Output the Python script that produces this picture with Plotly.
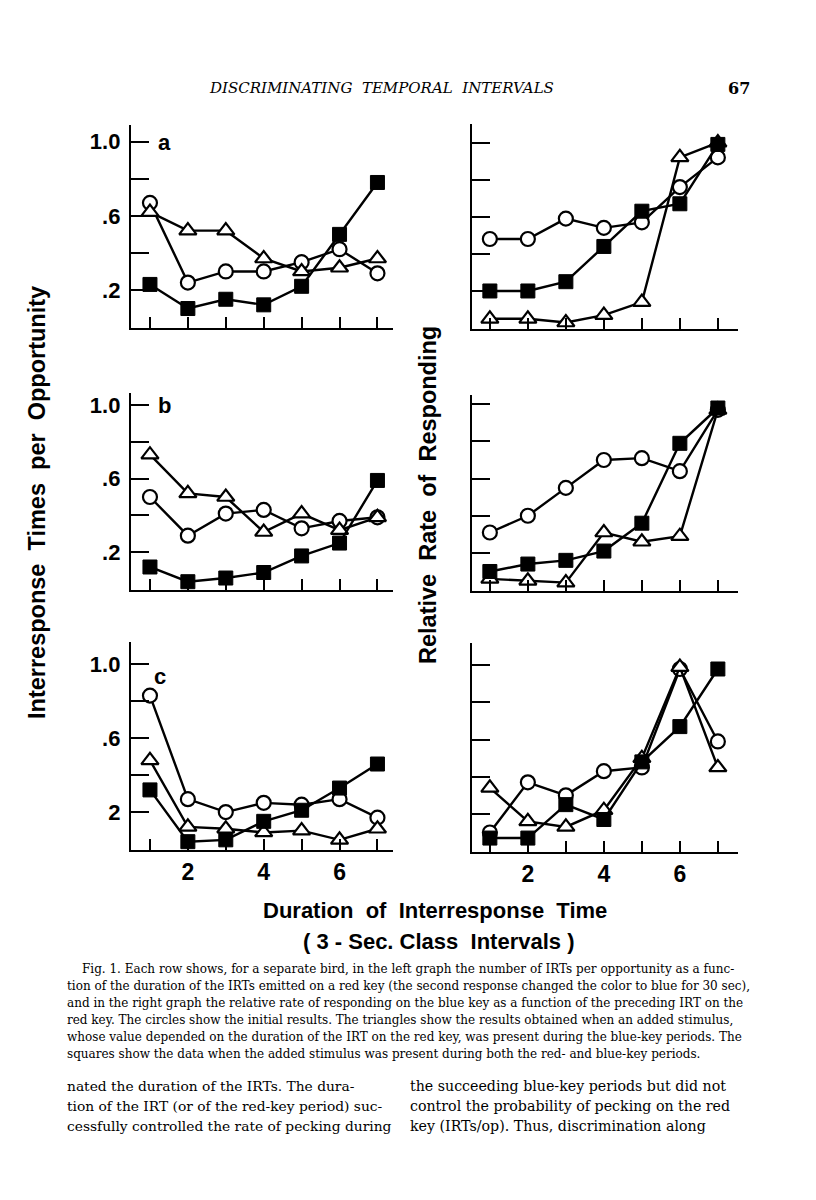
import plotly.graph_objects as go

# ---------------- data ----------------
x_class = [1, 2, 3, 4, 5, 6, 7]

# left column: IRTs per opportunity
a_left_circles   = [0.67, 0.24, 0.30, 0.30, 0.35, 0.42, 0.29]
a_left_triangles = [0.62, 0.52, 0.52, 0.37, 0.30, 0.32, 0.37]
a_left_squares   = [0.23, 0.10, 0.15, 0.12, 0.22, 0.50, 0.78]

b_left_circles   = [0.50, 0.29, 0.41, 0.43, 0.33, 0.37, 0.39]
b_left_triangles = [0.73, 0.52, 0.50, 0.31, 0.41, 0.32, 0.39]
b_left_squares   = [0.12, 0.04, 0.06, 0.09, 0.18, 0.25, 0.59]

c_left_circles   = [0.83, 0.27, 0.20, 0.25, 0.24, 0.27, 0.17]
c_left_triangles = [0.48, 0.12, 0.11, 0.09, 0.10, 0.05, 0.11]
c_left_squares   = [0.32, 0.04, 0.05, 0.15, 0.21, 0.33, 0.46]

# right column: relative rate of responding
a_right_circles   = [0.48, 0.48, 0.59, 0.54, 0.57, 0.76, 0.92]
a_right_triangles = [0.05, 0.05, 0.03, 0.07, 0.14, 0.92, 1.00]
a_right_squares   = [0.20, 0.20, 0.25, 0.44, 0.63, 0.67, 0.99]

b_right_circles   = [0.31, 0.40, 0.55, 0.70, 0.71, 0.64, 0.97]
b_right_triangles = [0.06, 0.05, 0.04, 0.31, 0.26, 0.29, 0.97]
b_right_squares   = [0.10, 0.14, 0.16, 0.21, 0.36, 0.79, 0.98]

c_right_circles   = [0.10, 0.37, 0.30, 0.43, 0.45, 0.98, 0.59]
c_right_triangles = [0.34, 0.16, 0.13, 0.22, 0.50, 0.99, 0.45]
c_right_squares   = [0.07, 0.07, 0.25, 0.17, 0.48, 0.67, 0.98]

left_ytick_vals = [0.2, 0.4, 0.6, 0.8, 1.0]
left_ytick_text = [".2", "", ".6", "", "1.0"]
left_ytick_text_c = ["2", "", ".6", "", "1.0"]
xtick_text = ["", "2", "", "4", "", "6", ""]
panel_labels = ["a", "b", "c"]

# ---------------- figure ----------------
# the page body has an 8px default margin; the figure is sized to fill the rest
OFF = 8
W, H = 816 - OFF, 1200 - OFF
fig = go.Figure()

def pyy(px):
    return 1 - (px - OFF) / H

def pxx(px):
    return (px - OFF) / W

LINE_W = 2.4
FONT = "Liberation Sans"

panels = [
    (0, "L", a_left_circles, a_left_triangles, a_left_squares, (328, 125), [-0.005, 1.09]),
    (0, "R", a_right_circles, a_right_triangles, a_right_squares, (329, 124), [-0.005, 1.10]),
    (1, "L", b_left_circles, b_left_triangles, b_left_squares, (590, 393), [-0.005, 1.065]),
    (1, "R", b_right_circles, b_right_triangles, b_right_squares, (591, 395), [-0.005, 1.05]),
    (2, "L", c_left_circles, c_left_triangles, c_left_squares, (850, 642), [-0.005, 1.12]),
    (2, "R", c_right_circles, c_right_triangles, c_right_squares, (852, 643), [-0.005, 1.12]),
]

layout = {}
for i, (row, side, circ, tri, sq, ydom, yr) in enumerate(panels):
    n = i + 1
    xa = "x" if n == 1 else f"x{n}"
    ya = "y" if n == 1 else f"y{n}"
    if side == "L":
        xdom = [pxx(131), pxx(393)]
        xr = [0.5, 7.41]
    else:
        xdom = [pxx(472), pxx(738)]
        xr = [0.53, 7.53]
    bottom_row = row == 2
    layout["xaxis" if n == 1 else f"xaxis{n}"] = dict(
        domain=xdom, range=xr, anchor=ya,
        showline=True, linecolor="black", linewidth=LINE_W,
        ticks="inside", ticklen=11, tickwidth=LINE_W, tickcolor="black",
        tickvals=x_class,
        ticktext=xtick_text if bottom_row else [""] * 7,
        showticklabels=bottom_row,
        tickfont=dict(family=FONT, size=23, color="black", weight="bold"),
        ticklabelstandoff=0,
        showgrid=False, zeroline=False, fixedrange=True,
    )
    if side == "L":
        ytext = left_ytick_text_c if row == 2 else left_ytick_text
        show = True
    else:
        ytext = [""] * 5
        show = False
    layout["yaxis" if n == 1 else f"yaxis{n}"] = dict(
        domain=[pyy(ydom[0]), pyy(ydom[1])], range=yr, anchor=xa,
        showline=True, linecolor="black", linewidth=LINE_W,
        ticks="inside", ticklen=18, tickwidth=LINE_W, tickcolor="black",
        tickvals=left_ytick_vals, ticktext=ytext, showticklabels=show,
        tickfont=dict(family=FONT, size=22, color="black", weight="bold"),
        ticklabelstandoff=4,
        showgrid=False, zeroline=False, fixedrange=True,
    )
    common = dict(xaxis=xa, yaxis=ya, mode="lines+markers", showlegend=False,
                  line=dict(color="black", width=LINE_W), cliponaxis=False)
    fig.add_trace(go.Scatter(x=x_class, y=circ,
                             marker=dict(symbol="circle", size=14, color="white",
                                         line=dict(color="black", width=2.2)), **common))
    fig.add_trace(go.Scatter(x=x_class, y=tri,
                             marker=dict(symbol="triangle-up", size=15, color="white",
                                         line=dict(color="black", width=2.2)), **common))
    fig.add_trace(go.Scatter(x=x_class, y=sq,
                             marker=dict(symbol="square", size=14, color="black",
                                         line=dict(color="black", width=1)), **common))

annotations = []

def note(text, x, y, size, family=FONT, weight="normal", xanchor="center", angle=0):
    annotations.append(dict(text=text, x=pxx(x), y=pyy(y), xref="paper", yref="paper",
                            showarrow=False, xanchor=xanchor, yanchor="middle",
                            textangle=angle,
                            font=dict(family=family, size=size, color="black", weight=weight)))

# panel letters
for lab, (xp, ypx) in zip(panel_labels, [(164, 142), (164, 405), (160, 676)]):
    note(lab, xp, ypx, 22, weight="bold")

# axis titles
note("Interresponse  Times  per  Opportunity", 37, 503, 23.5, weight="bold", angle=-90)
note("Relative  Rate  of  Responding", 428, 495, 23.5, weight="bold", angle=-90)
note("Duration  of  Interresponse  Time", 435, 910, 22, weight="bold")
note("( 3 - Sec. Class  Intervals )", 438, 942, 22, weight="bold")

# page header
note("<i>DISCRIMINATING  TEMPORAL  INTERVALS</i>", 207, 88, 15, family="DejaVu Serif", xanchor="left")
note("<b>67</b>", 752, 88, 16, family="DejaVu Serif", xanchor="right")

caption = [
    "Fig. 1. Each row shows, for a separate bird, in the left graph the number of IRTs per opportunity as a func-",
    "tion of the duration of the IRTs emitted on a red key (the second response changed the color to blue for 30 sec),",
    "and in the right graph the relative rate of responding on the blue key as a function of the preceding IRT on the",
    "red key. The circles show the initial results. The triangles show the results obtained when an added stimulus,",
    "whose value depended on the duration of the IRT on the red key, was present during the blue-key periods. The",
    "squares show the data when the added stimulus was present during both the red- and blue-key periods.",
]
for k, line in enumerate(caption):
    note(line, 80 if k == 0 else 65, 969 + 17 * k, 12, family="DejaVu Serif", xanchor="left")

body_left = [
    "nated the duration of the IRTs. The dura-",
    "tion of the IRT (or of the red-key period) suc-",
    "cessfully controlled the rate of pecking during",
]
body_right = [
    "the succeeding blue-key periods but did not",
    "control the probability of pecking on the red",
    "key (IRTs/op). Thus, discrimination along",
]
for k, (l, r) in enumerate(zip(body_left, body_right)):
    note(l, 65, 1086 + 20 * k, 13.8, family="DejaVu Serif", xanchor="left")
    note(r, 408, 1086 + 20 * k, 14.2, family="DejaVu Serif", xanchor="left")

fig.update_layout(
    width=W, height=H, margin=dict(l=0, r=0, t=0, b=0),
    paper_bgcolor="white", plot_bgcolor="white",
    annotations=annotations, **layout,
)

fig.write_html("out.html", config={"displayModeBar": False})
